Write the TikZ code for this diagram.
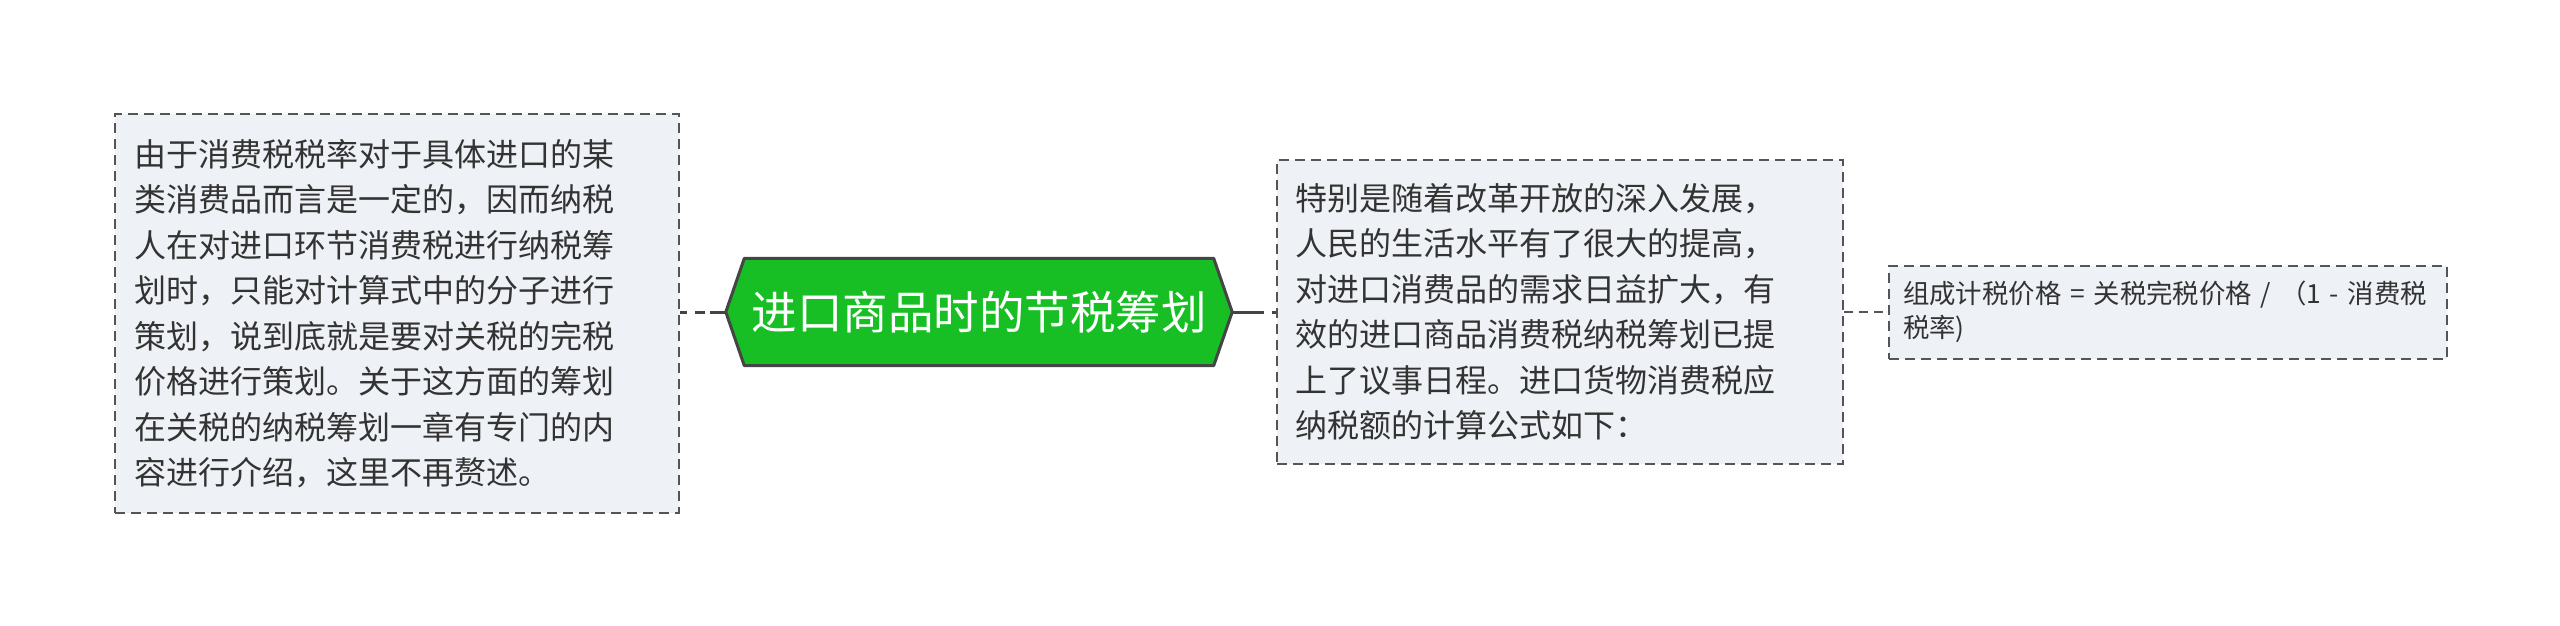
\documentclass[tikz,border=0pt]{standalone}
\usepackage{fontspec}
\setmainfont{Noto Sans CJK SC}
\usetikzlibrary{backgrounds,calc}
\definecolor{boxfill}{HTML}{EEF1F5}
\definecolor{boxline}{HTML}{555555}
\definecolor{txt}{HTML}{333333}
\definecolor{hubfill}{HTML}{17BF24}
\definecolor{hubline}{HTML}{454545}
\definecolor{linkcol}{HTML}{444444}
\begin{document}
\begin{tikzpicture}[x=1pt,y=-1pt,
  note/.style={draw=boxline, line width=2pt, dash pattern=on 10pt off 6pt,
    fill=boxfill, text=txt, align=left, inner ysep=8pt, anchor=center},
  bignote/.style={note, font=\fontsize{32pt}{45.5pt}\selectfont},
  smallnote/.style={note, font=\fontsize{26.4pt}{34pt}\selectfont},
  hubnode/.style={minimum width=469pt, minimum height=107pt, inner sep=0pt,
    text=white, font=\fontsize{45.5pt}{54pt}\selectfont},
  hubshape/.style={fill=hubfill, draw=hubline, line width=3pt, line join=round},
  thicklink/.style={draw=linkcol, line width=3pt},
  thinlink/.style={draw=boxline, line width=1.5pt, dash pattern=on 9pt off 6pt}
]
\useasboundingbox (0,0) rectangle (2560,625);

\node[bignote, text width=526pt, inner xsep=19pt, minimum height=399pt] (left) at (397,313.5)
  {由于消费税税率对于具体进口的某\\类消费品而言是一定的，因而纳税\\人在对进口环节消费税进行纳税筹\\划时，只能对计算式中的分子进行\\策划，说到底就是要对关税的完税\\价格进行策划。关于这方面的筹划\\在关税的纳税筹划一章有专门的内\\容进行介绍，这里不再赘述。};

\node[hubnode] (hub) at (979,312) {进口商品时的节税筹划};
\coordinate (hubL) at ($(hub.west)+(-18.5,0)$);
\coordinate (hubR) at ($(hub.east)+(18.5,0)$);
\begin{scope}[on background layer]
  \draw[hubshape] (hub.north west) -- (hub.north east) -- (hubR) -- (hub.south east)
    -- (hub.south west) -- (hubL) -- cycle;
\end{scope}

\node[bignote, text width=530pt, inner xsep=18pt, minimum height=304pt] (r1) at (1560,312)
  {特别是随着改革开放的深入发展，\\人民的生活水平有了很大的提高，\\对进口消费品的需求日益扩大，有\\效的进口商品消费税纳税筹划已提\\上了议事日程。进口货物消费税应\\纳税额的计算公式如下：};

\node[smallnote, text width=530pt, inner xsep=14pt, minimum height=93pt] (r2) at (2168,312)
  {\mbox{组成计税价格 = 关税完税价格 / （1 - 消费税}\\\mbox{税率)}};

\draw[thicklink, dash pattern=on 16pt off 5pt on 10pt off 8pt] (hubL) -- (hubL -| left.east);
\draw[thicklink, dash pattern=on 32pt off 8pt on 12pt off 0pt] (hubR) -- (hubR -| r1.west);
\draw[thinlink] (r1.east |- r2.west) -- (r2.west);
\end{tikzpicture}
\end{document}
